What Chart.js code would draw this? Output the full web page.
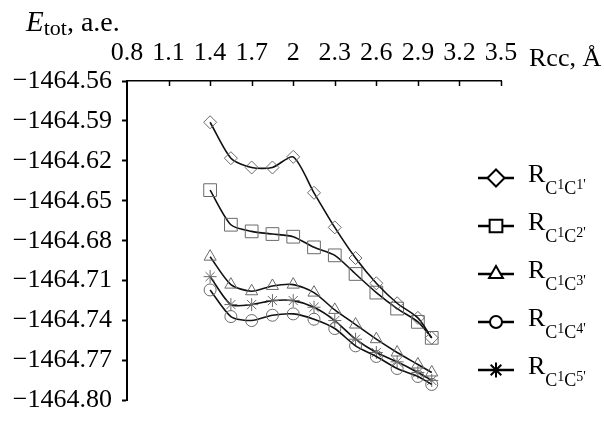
<!DOCTYPE html>
<html>
<head>
<meta charset="utf-8">
<script src="https://cdn.jsdelivr.net/npm/chart.js@4.4.0/dist/chart.umd.min.js"></script>
<style>
  html, body { margin: 0; padding: 0; background: #fff; }
</style>
</head>
<body>
<canvas id="grafic" width="604" height="426"></canvas>
<script>
"use strict";

const SERIF = '"Liberation Serif", "Times New Roman", serif';

// C-C distance, Å
const rcc = [1.4, 1.55, 1.7, 1.85, 2.0, 2.15, 2.3, 2.45, 2.6, 2.75, 2.9, 3.0];

// total energy, a.e.
const eC1C1 = [-1464.591, -1464.618, -1464.625, -1464.625, -1464.617, -1464.644, -1464.670, -1464.693, -1464.712, -1464.727, -1464.738, -1464.753];
const eC1C2 = [-1464.642, -1464.668, -1464.673, -1464.675, -1464.677, -1464.685, -1464.691, -1464.705, -1464.719, -1464.731, -1464.741, -1464.753];
const eC1C3 = [-1464.692, -1464.713, -1464.718, -1464.714, -1464.713, -1464.719, -1464.732, -1464.743, -1464.754, -1464.764, -1464.773, -1464.779];
const eC1C4 = [-1464.717, -1464.737, -1464.740, -1464.736, -1464.735, -1464.739, -1464.746, -1464.759, -1464.767, -1464.776, -1464.782, -1464.788];
const eC1C5 = [-1464.707, -1464.728, -1464.728, -1464.725, -1464.725, -1464.730, -1464.740, -1464.754, -1464.764, -1464.771, -1464.779, -1464.785];

const seriesNames = ['1', '2', '3', '4', '5'];
const xTickValues = [0.8, 1.1, 1.4, 1.7, 2, 2.3, 2.6, 2.9, 3.2, 3.5];
const yTickValues = [-1464.56, -1464.59, -1464.62, -1464.65, -1464.68, -1464.71, -1464.74, -1464.77, -1464.80];

function makeSet(values, name, style, radius, legendRadius) {
    return {
        label: name,
        data: values.map((v, i) => ({x: rcc[i], y: v})),
        borderColor: '#111',
        borderWidth: 1.6,
        tension: 0.25,
        pointStyle: style,
        pointRadius: radius,
        pointBorderColor: '#6a6a6a',
        pointBorderWidth: 1,
        pointBackgroundColor: 'rgba(255,255,255,0)',
        legendRadius: legendRadius
    };
}

const datasets = [
    makeSet(eC1C1, seriesNames[0], 'rectRot', 6.5, 8.5),
    makeSet(eC1C2, seriesNames[1], 'rect', 9, 9),
    makeSet(eC1C3, seriesNames[2], 'triangle', 7, 8),
    makeSet(eC1C4, seriesNames[3], 'circle', 6, 6),
    makeSet(eC1C5, seriesNames[4], 'star', 6.5, 7.5)
];

// R with subscript C¹Cⁿ'
function drawLegendText(ctx, x, y, n) {
    ctx.textAlign = 'left';
    ctx.textBaseline = 'alphabetic';
    const parts = [
        ['R', 26, 4],
        ['C', 18, 16],
        ['1', 14, 11],
        ['C', 18, 16],
        [n + "'", 14, 11]
    ];
    parts.forEach(p => {
        ctx.font = p[1] + 'px ' + SERIF;
        ctx.fillText(p[0], x, y + p[2]);
        x += ctx.measureText(p[0]).width;
    });
}

const extras = {
    id: 'extras',
    afterDraw(chart) {
        const ctx = chart.ctx;
        const xs = chart.scales.x;
        const area = chart.chartArea;
        ctx.save();
        ctx.fillStyle = '#000';
        ctx.strokeStyle = '#000';

        // tick marks of the top axis point down into the plot
        ctx.lineWidth = 1.5;
        xs.ticks.forEach((t, i) => {
            if (i === 0) return;
            const px = Math.round(xs.getPixelForValue(t.value)) + 0.5;
            ctx.beginPath();
            ctx.moveTo(px, area.top);
            ctx.lineTo(px, area.top + 5);
            ctx.stroke();
        });

        // axis titles
        ctx.textBaseline = 'alphabetic';
        ctx.textAlign = 'left';
        ctx.font = 'italic 29px ' + SERIF;
        ctx.fillText('E', 26, 31);
        let w = 26 + ctx.measureText('E').width;
        ctx.font = '22px ' + SERIF;
        ctx.fillText('tot', w, 35);
        w += ctx.measureText('tot').width;
        ctx.font = '28px ' + SERIF;
        ctx.fillText(', a.e.', w, 31);

        ctx.font = '26px ' + SERIF;
        ctx.fillText('Rcc, Å', 529, 66);

        // legend: line + marker + label
        datasets.forEach((ds, i) => {
            const y = 178 + i * 48;
            ctx.strokeStyle = '#000';
            ctx.lineWidth = 2.5;
            ctx.beginPath();
            ctx.moveTo(478, y);
            ctx.lineTo(514, y);
            ctx.stroke();
            ctx.fillStyle = '#fff';
            ctx.lineWidth = 2;
            Chart.helpers.drawPoint(ctx, {pointStyle: ds.pointStyle, radius: ds.legendRadius, borderWidth: 2, rotation: 0}, 496, y);
            ctx.fillStyle = '#000';
            drawLegendText(ctx, 528, y, ds.label);
        });
        ctx.restore();
    }
};

function main() {
    new Chart(document.getElementById('grafic'), {
        type: 'line',
        data: {datasets: datasets},
        options: {
            responsive: false,
            animation: false,
            layout: {padding: {left: 0, top: 0, right: 103, bottom: 12}},
            plugins: {legend: {display: false}, tooltip: {enabled: false}},
            scales: {
                x: {
                    type: 'linear',
                    position: 'top',
                    min: 0.8,
                    max: 3.5,
                    afterBuildTicks: s => { s.ticks = xTickValues.map(v => ({value: v})); },
                    afterFit: s => { s.height = 81; },
                    ticks: {
                        color: '#000',
                        font: {family: SERIF, size: 26},
                        padding: 12,
                        maxRotation: 0,
                        autoSkip: false,
                        callback: v => String(+v.toFixed(1))
                    },
                    grid: {drawOnChartArea: false, drawTicks: false},
                    border: {color: '#000', width: 1.5}
                },
                y: {
                    min: -1464.80,
                    max: -1464.56,
                    afterBuildTicks: s => { s.ticks = yTickValues.map(v => ({value: v})); },
                    afterFit: s => { s.width = 127; },
                    ticks: {
                        color: '#000',
                        font: {family: SERIF, size: 26},
                        padding: 10,
                        autoSkip: false,
                        callback: v => '\u2212' + Math.abs(v).toFixed(2)
                    },
                    grid: {drawOnChartArea: false, tickLength: 5, tickColor: '#000', tickWidth: 2},
                    border: {color: '#000', width: 2}
                }
            }
        },
        plugins: [extras]
    });
}

document.addEventListener('DOMContentLoaded', main);
</script>
</body>
</html>
